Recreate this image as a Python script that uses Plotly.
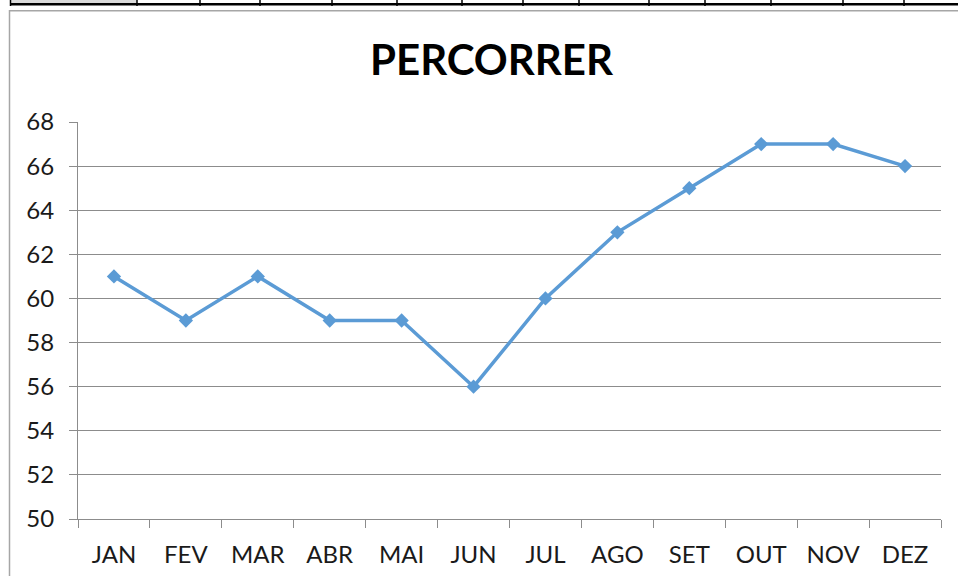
import plotly.graph_objects as go

# Monthly values
months = ["JAN", "FEV", "MAR", "ABR", "MAI", "JUN", "JUL", "AGO", "SET", "OUT", "NOV", "DEZ"]
values = [61, 59, 61, 59, 59, 56, 60, 63, 65, 67, 67, 66]
y_ticks = [50, 52, 54, 56, 58, 60, 62, 64, 66, 68]

W, H = 958, 576
L, R, T, B = 78, 941, 122, 519  # plot area in pixels

def px(x):
    return (x - L) / (R - L)

def py(y):
    return (B - y) / (B - T)

grid_col = "#8c8c8c"
font_family = "Lato, Calibri, 'Open Sans', sans-serif"

fig = go.Figure()
fig.add_trace(go.Scatter(
    x=months, y=values, mode="lines+markers",
    line=dict(color="#5B9BD5", width=3.5),
    marker=dict(symbol="diamond", size=11, color="#5B9BD5"),
    hoverinfo="x+y",
))

shapes = []
# spreadsheet header strip above the chart
shapes.append(dict(type="rect", xref="paper", yref="paper",
                   x0=px(11), x1=px(137), y0=py(0), y1=py(3.2),
                   fillcolor="#dadada", line=dict(width=0), layer="above"))
shapes.append(dict(type="line", xref="paper", yref="paper",
                   x0=px(10), x1=px(W), y0=py(4.3), y1=py(4.3),
                   line=dict(color="#000000", width=2.5), layer="above"))
for sx in [10.5, 137, 200, 260, 332, 397, 462, 523, 579, 649, 705, 771, 843, 904]:
    shapes.append(dict(type="line", xref="paper", yref="paper",
                       x0=px(sx), x1=px(sx), y0=py(0), y1=py(6),
                       line=dict(color="#000000", width=1.5), layer="above"))
# chart frame
shapes.append(dict(type="path", xref="paper", yref="paper",
                   path=f"M {px(9.5)} {py(H)} L {px(9.5)} {py(10.8)} L {px(W)} {py(10.8)}",
                   line=dict(color="#a6a6a6", width=1.5), layer="above"))

fig.update_layout(
    width=W, height=H,
    margin=dict(l=L, r=W - R, t=T, b=H - B),
    paper_bgcolor="white", plot_bgcolor="white",
    showlegend=False,
    title=dict(text="<b>PERCORRER</b>", x=(373 + 610) / 2 / W, xanchor="center",
               y=1 - 60 / H, yanchor="middle",
               font=dict(family=font_family, size=42, color="#000000")),
    font=dict(family=font_family, size=24, color="#1a1a1a"),
    xaxis=dict(
        type="category", range=[-0.5, 11.5], automargin=False,
        showgrid=False, showline=True, linecolor=grid_col, linewidth=1,
        ticks="outside", ticklen=8, tickcolor=grid_col, tickwidth=1,
        tickson="boundaries", ticklabelstandoff=14,
        tickfont=dict(family=font_family, size=24, color="#1a1a1a"),
    ),
    yaxis=dict(
        range=[50, 68], tickvals=y_ticks, automargin=False,
        showgrid=True, gridcolor=grid_col, gridwidth=1,
        showline=True, linecolor=grid_col, linewidth=1,
        ticks="outside", ticklen=8, tickcolor=grid_col, tickwidth=1,
        zeroline=False, ticklabelstandoff=10,
        tickfont=dict(family=font_family, size=24, color="#1a1a1a"),
    ),
    shapes=shapes,
)

fig.write_html("out.html")
